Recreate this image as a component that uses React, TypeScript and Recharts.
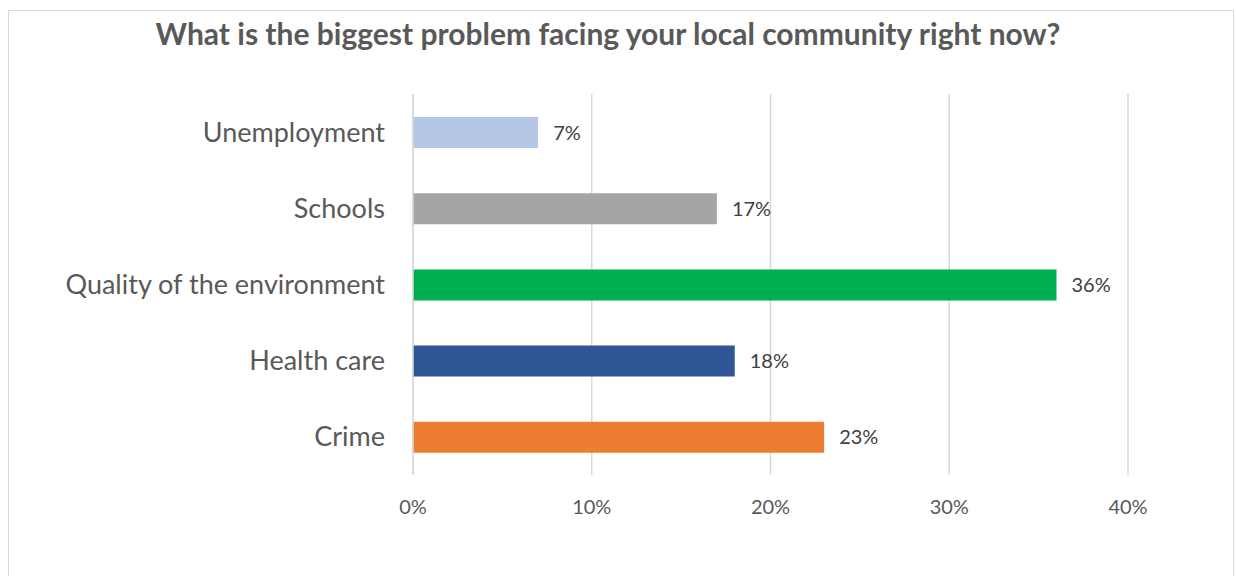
import React from "react";
import { BarChart, Bar, XAxis, YAxis, CartesianGrid, Cell, LabelList } from "recharts";

const categories = ["Unemployment", "Schools", "Quality of the environment", "Health care", "Crime"];
const values = [7, 17, 36, 18, 23];
const colors = ["#B4C7E7", "#A5A5A5", "#00B050", "#2F5597", "#ED7D31"];
const xTicks = [0, 10, 20, 30, 40];
const title = "What is the biggest problem facing your local community right now?";

const data = categories.map((c, i) => ({ name: c, value: values[i] }));
const FONT = "Lato, 'Open Sans', sans-serif";

export default function App() {
  return (
    <div style={{ position: "absolute", left: 0, top: 0, width: 1236, height: 576, background: "#fff", fontFamily: FONT, overflow: "hidden" }}>
      <div style={{ position: "absolute", left: 8, top: 10, width: 1226, height: 580, border: "1.5px solid #D9D9D9", boxSizing: "border-box" }} />
      <div style={{ position: "absolute", left: 0, top: 18, width: 1216, textAlign: "center", fontSize: 30, lineHeight: "30px", fontWeight: 700, color: "#595959", whiteSpace: "nowrap" }}>
        {title}
      </div>
      <div style={{ position: "absolute", left: 0, top: 0 }}>
        <BarChart
          width={1236}
          height={576}
          data={data}
          layout="vertical"
          margin={{ top: 94, right: 108, bottom: 71, left: 0 }}
          barSize={31}
        >
          <CartesianGrid horizontal={false} vertical={true} stroke="#D9D9D9" strokeWidth={1.5} />
          <XAxis
            type="number"
            domain={[0, 40]}
            ticks={xTicks}
            tickFormatter={(v: number) => `${v}%`}
            axisLine={false}
            tickLine={false}
            tickSize={0}
            tickMargin={25}
            height={30}
            tick={{ fill: "#595959", fontSize: 20, fontFamily: FONT }}
          />
          <YAxis
            type="category"
            dataKey="name"
            width={413}
            axisLine={{ stroke: "#D9D9D9", strokeWidth: 1.5 }}
            tickLine={false}
            tickSize={0}
            tickMargin={28}
            tick={{ fill: "#595959", fontSize: 27, fontFamily: FONT }}
          />
          <Bar dataKey="value" isAnimationActive={false}>
            {data.map((d, i) => (
              <Cell key={d.name} fill={colors[i]} />
            ))}
            <LabelList
              dataKey="value"
              position="right"
              offset={15}
              formatter={(v: number) => `${v}%`}
              style={{ fill: "#404040", fontSize: 20, fontFamily: FONT }}
            />
          </Bar>
        </BarChart>
      </div>
    </div>
  );
}
